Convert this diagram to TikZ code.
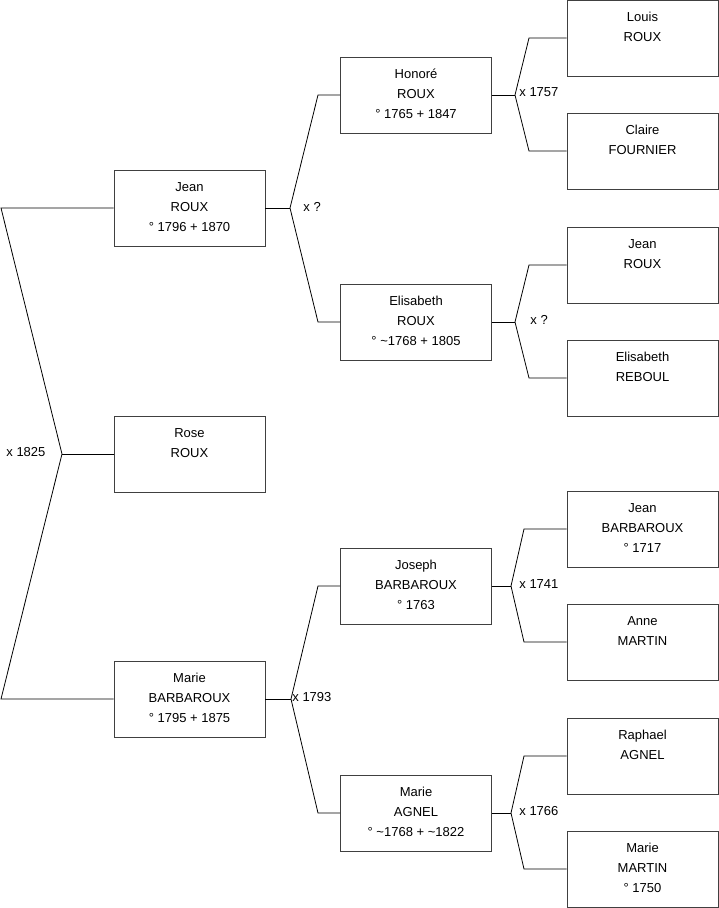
\documentclass[tikz,border=0pt]{standalone}
\usepackage{fontspec}
\setmainfont{Liberation Sans}
\newcommand{\pers}[3]{\strut #1\\\strut #2\\\strut #3\rule[-8pt]{0pt}{8pt}}
\begin{document}
\begin{tikzpicture}[x=1pt,y=-1pt,line width=.8pt,
 person/.style={draw=black!75,minimum width=151pt,minimum height=76pt,inner sep=0pt,
  align=center,font=\fontsize{13}{20}\selectfont},
 union/.style={anchor=west,inner sep=0pt,font=\fontsize{13}{15}\selectfont}]
 \useasboundingbox (0,0) rectangle (719,908);
 \node[person] (rose) at (189.5,454) {\pers{Rose}{ROUX}{}};
 \node[person] (jean) at (189.5,208) {\pers{Jean}{ROUX}{° 1796 + 1870}};
 \node[person] (marie) at (189.5,699) {\pers{Marie}{BARBAROUX}{° 1795 + 1875}};
 \node[person] (honore) at (416,95) {\pers{Honoré}{ROUX}{° 1765 + 1847}};
 \node[person] (elisabeth) at (416,322) {\pers{Elisabeth}{ROUX}{° \textasciitilde1768 + 1805}};
 \node[person] (joseph) at (416,586) {\pers{Joseph}{BARBAROUX}{° 1763}};
 \node[person] (agnel) at (416,813) {\pers{Marie}{AGNEL}{° \textasciitilde1768 + \textasciitilde1822}};
 \node[person] (louis) at (642.5,38) {\pers{Louis}{ROUX}{}};
 \node[person] (claire) at (642.5,151) {\pers{Claire}{FOURNIER}{}};
 \node[person] (jeanr) at (642.5,265) {\pers{Jean}{ROUX}{}};
 \node[person] (reboul) at (642.5,378) {\pers{Elisabeth}{REBOUL}{}};
 \node[person] (jeanb) at (642.5,529) {\pers{Jean}{BARBAROUX}{° 1717}};
 \node[person] (anne) at (642.5,642) {\pers{Anne}{MARTIN}{}};
 \node[person] (raphael) at (642.5,756) {\pers{Raphael}{AGNEL}{}};
 \node[person] (martin) at (642.5,869) {\pers{Marie}{MARTIN}{° 1750}};
 \coordinate (k0) at (62,454);
 \coordinate (k1) at (290,208);
 \coordinate (k2) at (291,699);
 \coordinate (k3) at (515,95);
 \coordinate (k4) at (515,322);
 \coordinate (k5) at (511,586);
 \coordinate (k6) at (511,813);
 \draw (rose.west)--(k0);
 \draw (jean.west)--(1,208)--(k0)--(1,699)--(marie.west);
 \draw (jean.east)--(k1);
 \draw (honore.west)--(318,95)--(k1)--(318,322)--(elisabeth.west);
 \draw (marie.east)--(k2);
 \draw (joseph.west)--(318,586)--(k2)--(318,813)--(agnel.west);
 \draw (honore.east)--(k3);
 \draw (louis.west)--(529,38)--(k3)--(529,151)--(claire.west);
 \draw (elisabeth.east)--(k4);
 \draw (jeanr.west)--(529,265)--(k4)--(529,378)--(reboul.west);
 \draw (joseph.east)--(k5);
 \draw (jeanb.west)--(524,529)--(k5)--(524,642)--(anne.west);
 \draw (agnel.east)--(k6);
 \draw (raphael.west)--(524,756)--(k6)--(524,869)--(martin.west);
 \node[union] (u0) at (6,452) {x 1825};
 \node[union] (u1) at (303,207) {x ?};
 \node[union] (u2) at (292,697) {x 1793};
 \node[union] (u3) at (519,92) {x 1757};
 \node[union] (u4) at (530,320) {x ?};
 \node[union] (u5) at (519,584) {x 1741};
 \node[union] (u6) at (519,811) {x 1766};
\end{tikzpicture}
\end{document}
